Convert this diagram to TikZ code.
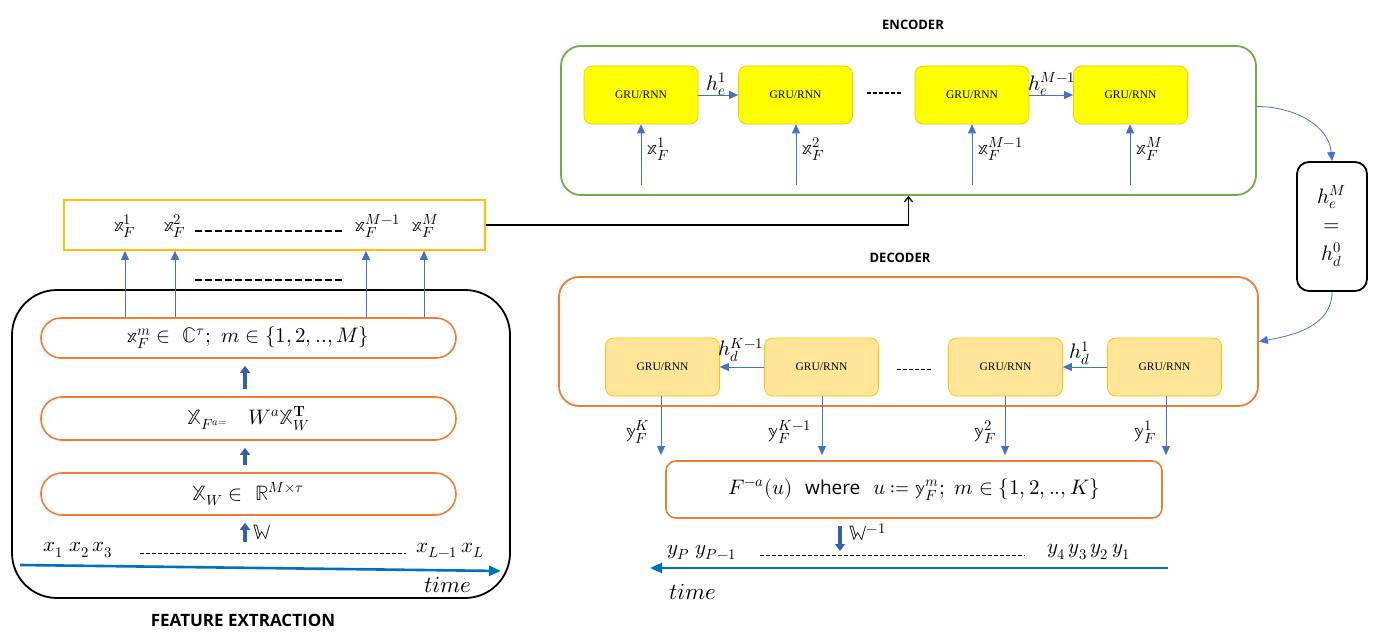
\documentclass[tikz,border=0pt]{standalone}
\usepackage{unicode-math}
\setsansfont{Open Sans}
\newfontfamily\grufont{Liberation Serif}
\usetikzlibrary{arrows.meta,positioning}
\definecolor{cGreen}{HTML}{70AD47}
\definecolor{cOrange}{HTML}{ED7D31}
\definecolor{cGold}{HTML}{FFC000}
\definecolor{cYellow}{HTML}{FFFF00}
\definecolor{cLight}{HTML}{FFE699}
\definecolor{cBlue}{HTML}{4472C4}
\definecolor{cTime}{HTML}{0070C0}
\definecolor{cDark}{HTML}{3560AC}
\begin{document}
\begin{tikzpicture}[x=1pt,y=-1pt,
  every node/.style={font=\fontsize{21}{25}\selectfont, inner sep=0pt},
  gru/.style={draw=cGold, fill=cYellow, rounded corners=8pt, minimum width=114pt, minimum height=58pt, line width=0.7pt, font=\grufont\fontsize{11.5}{13}\selectfont},
  dgru/.style={gru, fill=cLight},
  obox/.style={draw=cOrange, line width=1.6pt},
  bigbox/.style={line width=1.8pt, rounded corners=20pt},
  barrow/.style={draw=cBlue, line width=0.8pt, -{Triangle[length=9pt,width=8pt]}},
  fat/.style={draw=cDark, line width=4pt, -{Triangle[length=7pt,width=10pt]}},
  timearrow/.style={draw=cTime, line width=2.6pt, -{Triangle[length=12pt,width=10pt]}},
  title/.style={font=\sffamily\bfseries\fontsize{13}{15}\selectfont},
  dashrow/.style={line width=0.8pt, dash pattern=on 4pt off 2pt},
  boldrow/.style={line width=1.8pt, dash pattern=on 7pt off 3pt},
  tlab/.style={font=\fontsize{23}{26}\selectfont},
]
\useasboundingbox (0,0) rectangle (1390,642);

% ---------------- ENCODER ----------------
\node[title] (enctitle) at (913,25) {ENCODER};
\node[bigbox, draw=cGreen, minimum width=695pt, minimum height=149pt] (enc) at (908.5,120.5) {};
\node[gru] (e1) at (641,95) {GRU/RNN};
\node[gru] (e2) at (795.5,95) {GRU/RNN};
\node[gru] (e3) at (972,95) {GRU/RNN};
\node[gru] (e4) at (1130.5,95) {GRU/RNN};
\draw[barrow] (e1.east) -- (e2.west);
\draw[barrow] (e3.east) -- (e4.west);
\node (he1) at (716,84) {$h_e^1$};
\node (heM) at (1052,84) {$h_e^{M-1}$};
\draw[line width=1pt, dash pattern=on 4pt off 2pt] (867,93) -- (901,93);
\coordinate (ein1) at (641,185);
\coordinate (ein2) at (796,185);
\coordinate (ein3) at (972,185);
\coordinate (ein4) at (1130,185);
\draw[barrow] (ein1) -- (ein1 |- e1.south);
\draw[barrow] (ein2) -- (ein2 |- e2.south);
\draw[barrow] (ein3) -- (ein3 |- e3.south);
\draw[barrow] (ein4) -- (ein4 |- e4.south);
\node[anchor=west] (lx1) at (647,149) {$\mathbb{x}_F^1$};
\node[anchor=west] (lx2) at (802,149) {$\mathbb{x}_F^2$};
\node[anchor=west] (lx3) at (978,149) {$\mathbb{x}_F^{M-1}$};
\node[anchor=west] (lx4) at (1136,149) {$\mathbb{x}_F^M$};

% ---------------- INPUT ROW ----------------
\node[draw=cGold, line width=1.6pt, minimum width=421pt, minimum height=50pt] (inbox) at (274.5,225) {};
\node (xf1) at (125,226) {$\mathbb{x}_F^1$};
\node (xf2) at (175,226) {$\mathbb{x}_F^2$};
\node (xf3) at (378,226) {$\mathbb{x}_F^{M-1}$};
\node (xf4) at (426,226) {$\mathbb{x}_F^M$};
\draw[boldrow] (195,231) -- (342,231);
\draw[boldrow] (195,280) -- (342,280);
\draw[line width=1.3pt, -{Straight Barb[length=5pt,width=8pt]}] (inbox.east) -| (enc.south);

% ---------------- FEATURE EXTRACTION ----------------
\node[draw=black, line width=1.8pt, rounded corners=45pt, minimum width=498pt, minimum height=308pt] (fe) at (261,444) {};
\node[obox, rounded corners=20pt, minimum width=415pt, minimum height=40pt] (A) at (248.5,338) {$\mathbb{x}_F^m \in\ \mathbb{C}^{\tau};\ m \in \{1,2,..,M\}$};
\node[obox, rounded corners=21pt, minimum width=415pt, minimum height=43pt] (B) at (248.5,418.5) {$\mathbb{X}_{F^{a=}}\quad W^{a}\mathbb{X}^{\mathbf{T}}_{W}$};
\node[obox, rounded corners=21pt, minimum width=415pt, minimum height=42pt] (C) at (248.5,494) {$\mathbb{X}_{W} \in\ \mathbb{R}^{M\times\tau}$};
\coordinate (fa1) at (125,0);
\coordinate (fa2) at (175,0);
\coordinate (fa3) at (366,0);
\coordinate (fa4) at (424,0);
\draw[barrow] (A.north -| fa1) -- (inbox.south -| fa1);
\draw[barrow] (A.north -| fa2) -- (inbox.south -| fa2);
\draw[barrow] (A.north -| fa3) -- (inbox.south -| fa3);
\draw[barrow] (A.north -| fa4) -- (inbox.south -| fa4);
\coordinate (fx) at (245,0);
\draw[fat, shorten <=7pt, shorten >=7pt] (B.north -| fx) -- (A.south -| fx);
\draw[fat, shorten <=7pt, shorten >=7pt] (C.north -| fx) -- (B.south -| fx);
\coordinate (wstart) at (245,542);
\draw[fat, shorten >=7pt] (wstart) -- (C.south -| fx);
\node[anchor=west] (wlab) at (253,532) {$\mathbb{W}$};
\node[anchor=west] (xs) at (43,550) {$x_1\ x_2\,x_3$};
\draw[dashrow] (140,553) -- (406,553);
\node[anchor=west] (xl) at (416,550) {$x_{L-1}\,x_L$};
\coordinate (t1s) at (20,565);
\coordinate (t1e) at (501,571);
\draw[timearrow] (t1s) -- (t1e);
\node[tlab] (time1) at (448,585) {$time$};
\node[title, font=\sffamily\bfseries\fontsize{17}{20}\selectfont] (fetitle) at (243,620) {FEATURE EXTRACTION};

% ---------------- DECODER ----------------
\node[title] (dectitle) at (900,258) {DECODER};
\node[bigbox, draw=cOrange, minimum width=699pt, minimum height=129pt] (dec) at (908.5,341.5) {};
\node[dgru] (d1) at (662.5,367) {GRU/RNN};
\node[dgru] (d2) at (821.5,367) {GRU/RNN};
\node[dgru] (d3) at (1005.5,367) {GRU/RNN};
\node[dgru] (d4) at (1164.5,367) {GRU/RNN};
\draw[barrow] (d2.west) -- (d1.east);
\draw[barrow] (d4.west) -- (d3.east);
\node (hdK) at (741,350) {$h_d^{K-1}$};
\node (hd1) at (1080,353) {$h_d^1$};
\draw[line width=1pt, dash pattern=on 4pt off 2pt] (897,369) -- (931,369);
\node[obox, rounded corners=10pt, minimum width=496pt, minimum height=57pt] (F) at (914,489.5) {$F^{-a}(u)$\ \ {\sffamily\fontsize{19}{22}\selectfont where}\ \ $u \coloneq \mathbb{y}_F^m;\ m\in\{1,2,..,K\}$};
\coordinate (dy1) at (661,455);
\coordinate (dy2) at (822,455);
\coordinate (dy3) at (1005,455);
\coordinate (dy4) at (1166,455);
\draw[barrow] (dy1 |- d1.south) -- (dy1);
\draw[barrow] (dy2 |- d2.south) -- (dy2);
\draw[barrow] (dy3 |- d3.south) -- (dy3);
\draw[barrow] (dy4 |- d4.south) -- (dy4);
\node (ly1) at (638,432) {$\mathbb{y}_F^K$};
\node (ly2) at (790,432) {$\mathbb{y}_F^{K-1}$};
\node (ly3) at (985,432) {$\mathbb{y}_F^2$};
\node (ly4) at (1145,432) {$\mathbb{y}_F^1$};
\coordinate (winv) at (840,551);
\draw[fat, shorten <=7pt] (F.south -| winv) -- (winv);
\node[anchor=west] (wilab) at (849,532) {$\mathbb{W}^{-1}$};
\node[anchor=west] (yp) at (667,552) {$y_P\;y_{P-1}$};
\draw[dashrow] (760,555) -- (1025,555);
\node[anchor=west] (y4) at (1047,552) {$y_4\,y_3\,y_2\,y_1$};
\coordinate (t2s) at (1168,568);
\coordinate (t2e) at (650,568);
\draw[timearrow] (t2s) -- (t2e);
\node[tlab] (time2) at (693,592) {$time$};

% ---------------- h box ----------------
\node[draw=black, line width=1.8pt, rounded corners=12pt, minimum width=70pt, minimum height=129pt, align=center] (hb) at (1332,226.5) {$h_e^M$\\[3pt]$=$\\[4pt]$h_d^0$};
\draw[barrow] ([yshift=14pt]enc.east) to[out=0,in=95] (hb.north);
\draw[barrow] (hb.south) to[out=-90,in=10] (dec.east);
\end{tikzpicture}
\end{document}
